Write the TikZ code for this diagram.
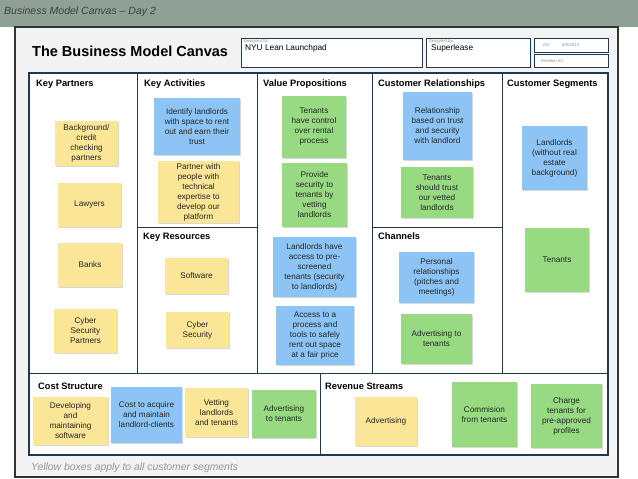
\documentclass[tikz,border=0pt]{standalone}
\usepackage{fontspec}
\setmainfont{Liberation Sans}
\usetikzlibrary{positioning, shadows}
\definecolor{BandGray}{RGB}{143,161,150}
\definecolor{FrameGray}{RGB}{243,243,244}
\definecolor{GridBlue}{RGB}{30,56,86}
\definecolor{NoteYellow}{RGB}{250,230,150}
\definecolor{NoteBlue}{RGB}{140,196,246}
\definecolor{NoteGreen}{RGB}{152,218,130}
\definecolor{CaptionGray}{RGB}{150,150,150}

\begin{document}
\begin{tikzpicture}[x=1pt, y=-1pt,
    note/.style={align=center, inner sep=1pt, text=black!85, font=\fontsize{8.2}{10}\selectfont,
        drop shadow={shadow xshift=0.8pt, shadow yshift=-0.8pt, opacity=0.3}},
    yel/.style={note, fill=NoteYellow},
    blu/.style={note, fill=NoteBlue},
    grn/.style={note, fill=NoteGreen},
    notesize/.style 2 args={minimum width=#1pt, minimum height=#2pt},
    sec/.style={anchor=west, inner sep=0pt, font=\bfseries\fontsize{9.3}{11}\selectfont},
    hbox/.style={draw=GridBlue, fill=white, line width=0.8pt},
    tinylbl/.style={inner sep=0pt, text=black!45, font=\itshape\fontsize{4.3}{5}\selectfont}]
                \useasboundingbox (0,0) rectangle (638,479);
                % Fondo
                \fill[BandGray] (0,0) rectangle (638,27);
                \draw[fill=FrameGray, draw=black!80, line width=2pt] (15,27) rectangle (618,477);
                \node[anchor=west, inner sep=0pt, text=black!75, font=\itshape\fontsize{10.5}{12}\selectfont] (pageTitle) at (4,12) {Business Model Canvas – Day 2};
                \node[anchor=west, inner sep=0pt, font=\bfseries\fontsize{14.5}{17}\selectfont] (canvasTitle) at (32,51) {The Business Model Canvas};
                \node[anchor=west, inner sep=0pt, text=CaptionGray, font=\itshape\fontsize{10.4}{12}\selectfont] (footNote) at (31,468) {Yellow boxes apply to all customer segments};
                
                % Cabecera
                \node[hbox, notesize={181}{29}] (designedFor) at (331.5,52.5) {};
                \node[hbox, notesize={104}{29}] (designedBy) at (478,52.5) {};
                \node[hbox, notesize={74}{14}] (dateBox) at (571,45) {};
                \node[hbox, notesize={74}{13}] (iterBox) at (571,60.5) {};
                \node[tinylbl, below right=2pt and 3pt of designedFor.north west, anchor=north west] (forLbl) {Designed for:};
                \node[tinylbl, below right=2pt and 3pt of designedBy.north west, anchor=north west] (byLbl) {Designed by:};
                \node[anchor=west, inner sep=0pt, font=\fontsize{8.3}{10}\selectfont] (forTxt) at (245,48) {NYU Lean Launchpad};
                \node[anchor=west, inner sep=0pt, font=\fontsize{8.3}{10}\selectfont] (byTxt) at (431,48) {Superlease};
                \node[tinylbl, anchor=west] (onLbl) at (543,45) {On:};
                \node[tinylbl, anchor=west] (onTxt) at (562,45) {8/5/2015};
                \node[tinylbl, anchor=west] (iterLbl) at (541,60.5) {Iteration \#2};
                
                % Rejilla
                \draw[GridBlue, line width=1.6pt, fill=white] (29,73) rectangle (608,455);
                \draw[GridBlue, line width=1pt] (137,73) -- (137,373) (257,73) -- (257,373)
                    (372,73) -- (372,373) (502,73) -- (502,373) (29,373) -- (608,373)
                    (137,227) -- (257,227) (372,227) -- (502,227) (320,373) -- (320,455);
                
                % Titulos
                \node[sec] (KP) at (36,84) {Key Partners};
                \node[sec] (KA) at (144,84) {Key Activities};
                \node[sec] (VP) at (263,84) {Value Propositions};
                \node[sec] (CR) at (378,84) {Customer Relationships};
                \node[sec] (CS) at (507,84) {Customer Segments};
                \node[sec] (KR) at (143,237) {Key Resources};
                \node[sec] (CH) at (378,236) {Channels};
                \node[sec] (CO) at (38,386) {Cost Structure};
                \node[sec] (RS) at (325,386) {Revenue Streams};
                
                % Notas
                \node[yel, notesize={63}{45}] (KPbg) at (86.5,143.5) {Background/\\credit\\checking\\partners};
                \node[yel, notesize={63}{44}] (KPlaw) at (89.5,205) {Lawyers};
                \node[yel, notesize={64}{44}] (KPbank) at (90,265) {Banks};
                \node[yel, notesize={63}{44}] (KPcyber) at (85.5,331) {Cyber\\Security\\Partners};
                
                \node[blu, notesize={86}{57}] (KAfind) at (197,126.5) {Identify landlords\\with space to rent\\out and earn their\\trust};
                \node[yel, notesize={81}{62}] (KApartner) at (198.5,192) {Partner with\\people with\\technical\\expertise to\\develop our\\platform};
                \node[yel, notesize={63}{36}] (KRsoft) at (196.5,276) {Software};
                \node[yel, notesize={63}{36}] (KRcyber) at (197.5,330) {Cyber\\Security};
                
                \node[grn, notesize={64}{62}] (VPcontrol) at (314,127) {Tenants\\have control\\over rental\\process};
                \node[grn, notesize={65}{64}] (VPsecure) at (314.5,195) {Provide\\security to\\tenants by\\vetting\\landlords};
                \node[blu, notesize={83}{60}] (VPaccess) at (314.5,267) {Landlords have\\access to pre-\\screened\\tenants (security\\to landlords)};
                \node[blu, notesize={78}{59}] (VPtools) at (315,335.5) {Access to a\\process and\\tools to safely\\rent out space\\at a fair price};
                
                \node[blu, notesize={69}{68}] (CRtrust) at (437.5,126) {Relationship\\based on trust\\and security\\with landlord};
                \node[grn, notesize={72}{51}] (CRvetted) at (437,192.5) {Tenants\\should trust\\our vetted\\landlords};
                \node[blu, notesize={75}{51}] (CHpersonal) at (436.5,277.5) {Personal\\relationships\\(pitches and\\meetings)};
                \node[grn, notesize={71}{50}] (CHadvert) at (436.5,339) {Advertising to\\tenants};
                
                \node[blu, notesize={65}{64}] (CSland) at (554.5,158) {Landlords\\(without real\\estate\\background)};
                \node[grn, notesize={64}{64}] (CStenant) at (557,260) {Tenants};
                
                \node[yel, notesize={75}{48}] (COsoft) at (70.5,421) {Developing\\and\\maintaining\\software};
                \node[blu, notesize={71}{56}] (COacquire) at (146.5,415) {Cost to acquire\\and maintain\\landlord-clients};
                \node[yel, notesize={63}{49}] (COvet) at (216.5,412.5) {Vetting\\landlords\\and tenants};
                \node[grn, notesize={64}{48}] (COadvert) at (284,414) {Advertising\\to tenants};
                
                \node[yel, notesize={62}{49}] (RSadvert) at (386,421.5) {Advertising};
                \node[grn, notesize={65}{65}] (RScommision) at (484.5,414.5) {Commision\\from tenants};
                \node[grn, notesize={71}{64}] (RScharge) at (566.5,416) {Charge\\tenants for\\pre-approved\\profiles};
                
            \end{tikzpicture}
\end{document}
